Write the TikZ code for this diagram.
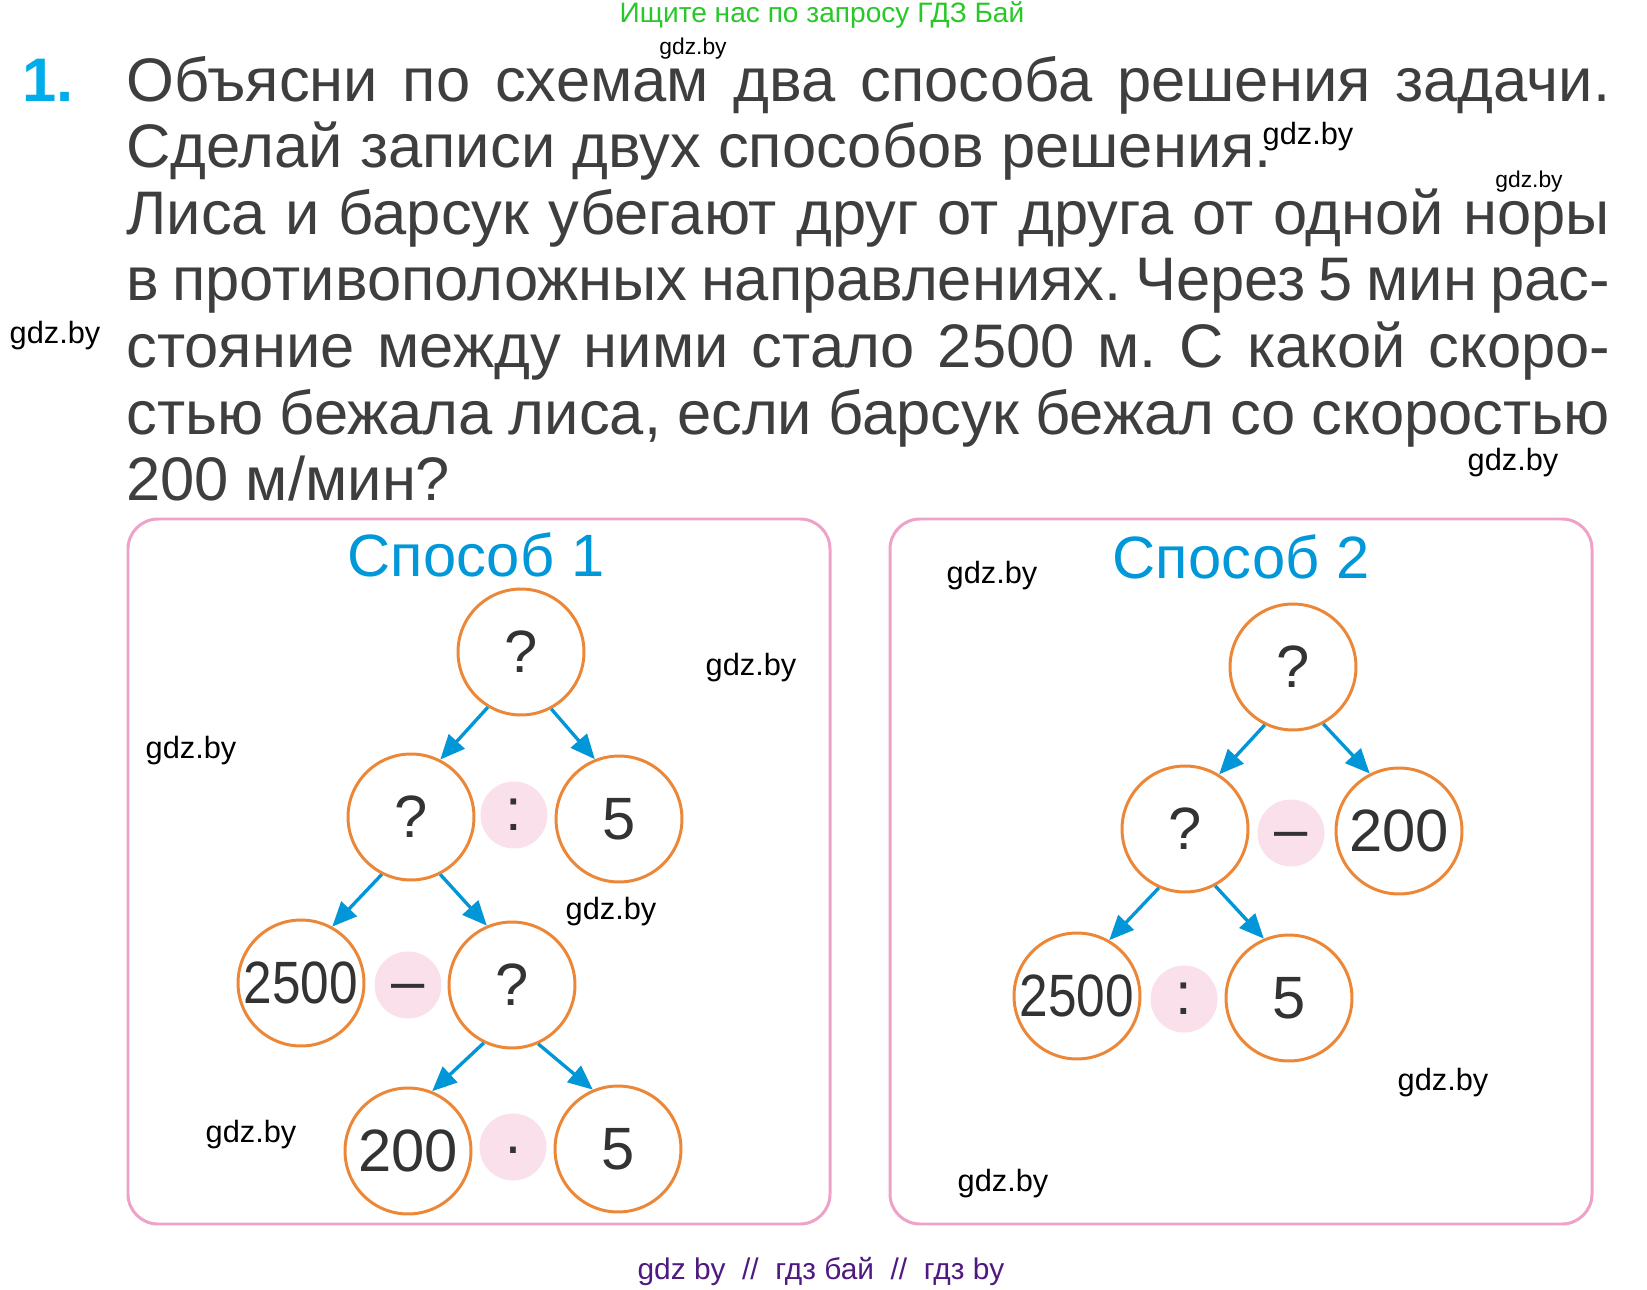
\documentclass[tikz,border=0pt]{standalone}
\usepackage{fontspec}
\usepackage{graphicx}
\setmainfont{Liberation Sans}
\usetikzlibrary{arrows.meta}
\frenchspacing

\definecolor{txtgray}{RGB}{62,62,62}
\definecolor{numgray}{RGB}{51,51,51}
\definecolor{numblue}{RGB}{0,172,234}
\definecolor{ttlblue}{RGB}{0,152,216}
\definecolor{arrblue}{RGB}{0,150,215}
\definecolor{ringorange}{RGB}{236,135,56}
\definecolor{oppink}{RGB}{250,224,235}
\definecolor{boxpink}{RGB}{238,162,200}
\definecolor{hdrgreen}{RGB}{40,200,40}
\definecolor{ftrpurple}{RGB}{80,25,130}

% operator signs, lowered to sit in the middle of the pink dot
\newcommand{\opminus}{\raisebox{-0.28em}[0pt][0pt]{–}}
\newcommand{\optimes}{\raisebox{-0.33em}[0pt][0pt]{·}}

\begin{document}
\begin{tikzpicture}[x=0.02cm, y=-0.02cm,
    txt/.style={text=txtgray, inner sep=0pt, anchor=base west, font=\fontsize{35}{35}\selectfont},
    ring/.style={circle, draw=ringorange, line width=1.7pt, fill=white, minimum size=2.52cm,
                 inner sep=0pt, text=numgray, font=\fontsize{34}{34}\selectfont},
    opdot/.style={circle, fill=oppink, minimum size=1.34cm, inner sep=0pt,
                  text=numgray, font=\fontsize{34}{34}\selectfont},
    arr/.style={-{Triangle[length=14pt,width=12pt]}, arrblue, line width=1.9pt},
    panel/.style={draw=boxpink, line width=1.7pt, rounded corners=0.6cm},
    ttl/.style={text=ttlblue, anchor=base, inner sep=0pt, font=\fontsize{34}{34}\selectfont},
    wm/.style={inner sep=0pt, font=\fontsize{17.5}{17.5}\selectfont},
    wmsmall/.style={inner sep=0pt, font=\fontsize{13}{13}\selectfont}]

    \fill[white] (0,0) rectangle (1647,1290);
    \useasboundingbox (0,0) rectangle (1647,1290);

    % header
    \node[text=hdrgreen, font=\fontsize{16}{16}\selectfont] (hdr) at (822,15) {Ищите нас по запросу ГДЗ Бай};

    % task text
    \node[anchor=base west, inner sep=0pt, text=numblue, font=\bfseries\fontsize{35}{35}\selectfont] (num) at (22,102) {1.};
    \node[txt] (l1) at (126,102) {\makebox[29.68cm][s]{Объясни по схемам два способа решения задачи.}};
    \node[txt] (l2) at (126,168) {Сделай записи двух способов решения.};
    \node[txt] (l3) at (126,235) {\makebox[29.68cm][s]{Лиса и барсук убегают друг от друга от одной норы}};
    \node[txt] (l4) at (126,301) {\makebox[29.68cm][s]{в противоположных направлениях. Через 5 мин рас-}};
    \node[txt] (l5) at (126,368) {\makebox[29.68cm][s]{стояние между ними стало 2500 м. С какой скоро-}};
    \node[txt] (l6) at (126,435) {\makebox[29.68cm][s]{стью бежала лиса, если барсук бежал со скоростью}};
    \node[txt] (l7) at (126,501) {200 м/мин?};

    % two panels
    \draw[panel] (128,519) rectangle (830,1224);
    \draw[panel] (890,519) rectangle (1592,1224);
    \node[ttl] (t1) at (476,577) {Способ 1};
    \node[ttl] (t2) at (1241,579) {Способ 2};

    % way 1
    \node[ring] (a1) at (521,652) {?};
    \node[ring] (b1) at (411,817) {?};
    \node[opdot] (o1) at (514,815) {:};
    \node[ring] (c1) at (619,819) {5};
    \node[ring] (d1) at (301,983) {\scalebox{0.86}[1]{2500}};
    \node[opdot] (o2) at (408,985) {\opminus};
    \node[ring] (e1) at (512,985) {?};
    \node[ring] (f1) at (408,1151) {200};
    \node[opdot] (o3) at (513,1147) {\optimes};
    \node[ring] (g1) at (618,1149) {5};
    \draw[arr] (a1.-121) -- (b1.63);
    \draw[arr] (a1.-62) -- (c1.112);
    \draw[arr] (b1.-117) -- (d1.61);
    \draw[arr] (b1.-63) -- (e1.113);
    \draw[arr] (e1.-116) -- (f1.68);
    \draw[arr] (e1.-66) -- (g1.113);

    % way 2
    \node[ring] (a2) at (1293,667) {?};
    \node[ring] (b2) at (1185,829) {?};
    \node[opdot] (p1) at (1291,833) {\opminus};
    \node[ring] (c2) at (1399,831) {200};
    \node[ring] (d2) at (1077,996) {\scalebox{0.86}[1]{2500}};
    \node[opdot] (p2) at (1184,999) {:};
    \node[ring] (e2) at (1289,998) {5};
    \draw[arr] (a2.-116) -- (b2.58);
    \draw[arr] (a2.-62) -- (c2.117);
    \draw[arr] (b2.-114) -- (d2.60);
    \draw[arr] (b2.-62) -- (e2.113);

    % watermarks
    \foreach \x/\y [count=\i] in {1308/137, 55/336, 1513/463, 992/576, 751/668,
                                  191/751, 611/912, 251/1135, 1443/1083, 1003/1184} {
        \node[wm] (wm\i) at (\x,\y) {gdz.by};
    }
    \node[wmsmall] (wms1) at (693,49) {gdz.by};
    \node[wmsmall] (wms2) at (1529,182) {gdz.by};

    % footer
    \node[text=ftrpurple, font=\fontsize{17}{17}\selectfont] (ftr) at (821,1272) {gdz by\ \ //\ \ гдз бай\ \ //\ \ гдз by};
\end{tikzpicture}
\end{document}
